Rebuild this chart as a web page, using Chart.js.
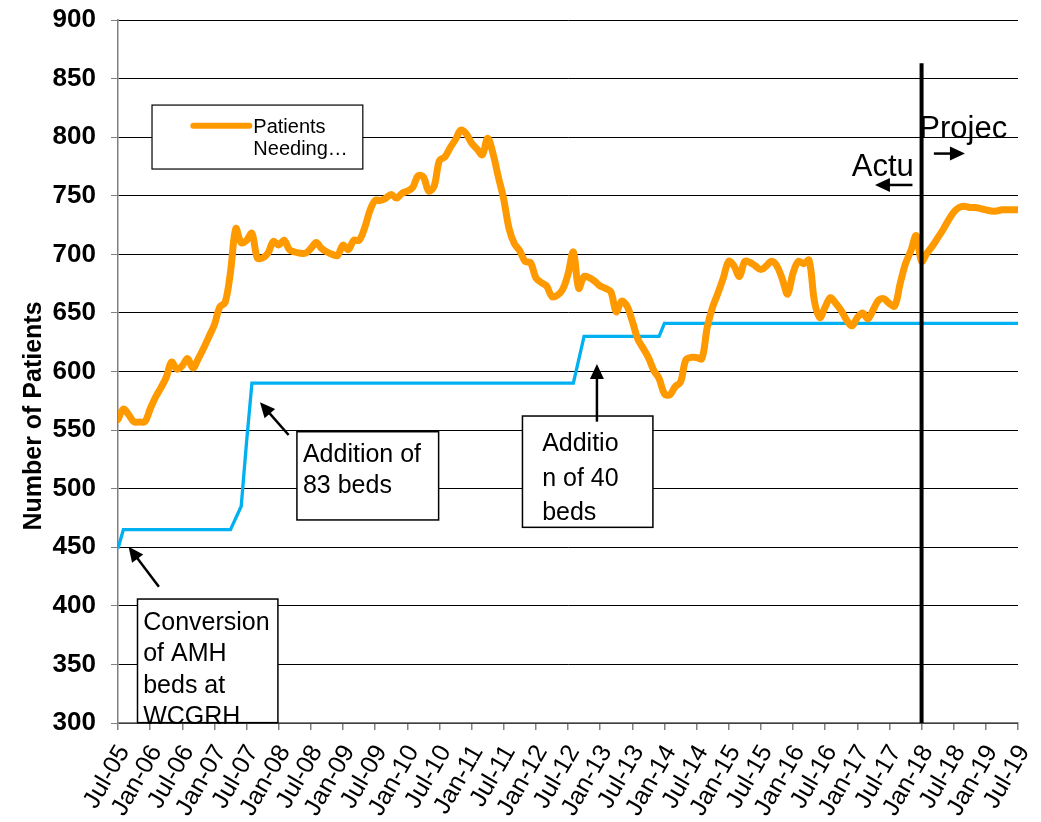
<!DOCTYPE html>
<html><head><meta charset="utf-8">
<script src="https://cdn.jsdelivr.net/npm/chart.js@4.4.1/dist/chart.umd.min.js"></script>
<style>html,body{margin:0;padding:0;background:#fff;} canvas{display:block;}</style>
</head><body>
<canvas id="c" width="1041" height="822"></canvas>
<script>
const FONT = "'Liberation Sans', Arial, sans-serif";

// x tick labels every 6 months (month index 0 = Jul-05, 168 = Jul-19)
const tickLabels = ['Jul-05','Jan-06','Jul-06','Jan-07','Jul-07','Jan-08','Jul-08','Jan-09','Jul-09','Jan-10',
  'Jul-10','Jan-11','Jul-11','Jan-12','Jul-12','Jan-13','Jul-13','Jan-14','Jul-14','Jan-15','Jul-15','Jan-16',
  'Jul-16','Jan-17','Jul-17','Jan-18','Jul-18','Jan-19','Jul-19'];

// Patients needing beds, monthly from Jul-05 (index 0) to Jul-19 (index 168)
const patientsNeeding = [
  559,568,563,557,557,557,568,578,586,595,608,602,
  605,611,603,611,620,630,640,655,659,685,722,710,
  712,718,697,697,701,711,708,712,704,702,701,701,
  705,710,705,702,700,699,708,704,712,712,722,737,
  746,746,748,751,748,752,754,757,767,766,754,758,
  780,783,791,798,806,803,795,790,785,799,786,766,
  747,722,709,703,694,693,680,676,673,664,665,670,
  683,702,671,681,680,677,673,671,668,651,660,656,
  643,628,620,612,601,594,581,580,587,591,610,612,
  612,611,638,655,667,680,694,690,681,694,693,690,
  687,690,694,690,679,666,684,694,692,695,660,646,
  655,663,658,652,644,639,646,650,645,653,661,662,
  658,656,675,692,703,716,694,701,707,714,721,729,
  736,740,741,740,740,739,738,737,737,738,738,738,
  738
];

// Bed capacity: month index where it changes, and value
const bedMonths = [0, 1, 21, 23, 24, 25, 85, 87, 101, 102, 168];
const bedValues = [449, 465, 465, 485, 540, 590, 590, 630, 630, 641, 641];

// Divider between actual and projection (Jan-18)
const dividerMonth = 150;
const dividerTop = 863;

const legendLabel = ['Patients', 'Needing…'];

// Annotation boxes (value coordinates: month index, patients)
const boxes = [
  { m1: 3.64, v1: 405.8, m2: 29.85, v2: 300.3, tx: 4.7,  lines: [['Conversion',379.8],['of AMH',352.7],['beds at',325.6],['WCGRH',298.8]] },
  { m1: 33.4, v1: 548.6, m2: 59.85, v2: 473.3, tx: 34.52, lines: [['Addition of',523],['83 beds',496]] },
  { m1: 75.5, v1: 562,   m2: 99.85, v2: 467,   tx: 79.17, lines: [['Additio',532.4],['n of 40',502.3],['beds',473.3]] }
];
const arrows = [
  { m1: 7.63, v1: 416.3, m2: 1.98, v2: 450.5 },
  { m1: 31.85, v1: 545.8, m2: 26.5, v2: 573.7 },
  { m1: 89.4, v1: 557.2, m2: 89.4, v2: 606.4 },
  { m1: 152.3, v1: 786, m2: 158.1, v2: 786 },
  { m1: 148.3, v1: 759.2, m2: 141.3, v2: 759.2 }
];
const sideTexts = [
  { text: 'Projec', m: 149.58, v: 798.9 },
  { text: 'Actu', m: 136.96, v: 766.8 }
];

function drawArrow(ctx, x1, y1, x2, y2) {
  const a = Math.atan2(y2 - y1, x2 - x1), L = 15, W = 7;
  ctx.save();
  ctx.strokeStyle = '#000'; ctx.fillStyle = '#000'; ctx.lineWidth = 2.5;
  ctx.beginPath(); ctx.moveTo(x1, y1);
  ctx.lineTo(x2 - L * 0.8 * Math.cos(a), y2 - L * 0.8 * Math.sin(a)); ctx.stroke();
  ctx.beginPath(); ctx.moveTo(x2, y2);
  ctx.lineTo(x2 - L * Math.cos(a) + W * Math.sin(a), y2 - L * Math.sin(a) - W * Math.cos(a));
  ctx.lineTo(x2 - L * Math.cos(a) - W * Math.sin(a), y2 - L * Math.sin(a) + W * Math.cos(a));
  ctx.closePath(); ctx.fill();
  ctx.restore();
}

const annotationPlugin = {
  id: 'annot',
  afterDatasetsDraw(chart) {
    const ctx = chart.ctx, xs = chart.scales.x, ys = chart.scales.y;
    const X = m => xs.getPixelForValue(m), Y = v => ys.getPixelForValue(v);
    ctx.save();
    // legend box
    ctx.fillStyle = '#fff'; ctx.strokeStyle = '#000'; ctx.lineWidth = 1.2;
    ctx.fillRect(X(6.35), Y(827.4), X(45.7) - X(6.35), Y(772.8) - Y(827.4));
    ctx.strokeRect(X(6.35), Y(827.4), X(45.7) - X(6.35), Y(772.8) - Y(827.4));
    ctx.strokeStyle = '#FF9900'; ctx.lineWidth = 6; ctx.lineCap = 'round';
    ctx.beginPath(); ctx.moveTo(X(14.06), Y(809.8)); ctx.lineTo(X(24.51), Y(809.8)); ctx.stroke();
    ctx.fillStyle = '#000'; ctx.font = '20px ' + FONT; ctx.textAlign = 'left'; ctx.textBaseline = 'alphabetic';
    ctx.fillText(legendLabel[0], X(25.26), Y(803.3));
    ctx.fillText(legendLabel[1], X(25.26), Y(784.8));
    // boxes
    for (const b of boxes) {
      ctx.fillStyle = '#fff'; ctx.strokeStyle = '#000'; ctx.lineWidth = 1.5; ctx.lineCap = 'butt';
      const x = X(b.m1), y = Y(b.v1), w = X(b.m2) - x, h = Y(b.v2) - y;
      ctx.fillRect(x, y, w, h); ctx.strokeRect(x, y, w, h);
      ctx.fillStyle = '#000'; ctx.font = '25px ' + FONT;
      for (const [t, v] of b.lines) ctx.fillText(t, X(b.tx), Y(v));
    }
    for (const a of arrows) drawArrow(ctx, X(a.m1), Y(a.v1), X(a.m2), Y(a.v2));
    ctx.fillStyle = '#000'; ctx.font = '31px ' + FONT;
    for (const s of sideTexts) ctx.fillText(s.text, X(s.m), Y(s.v));
    // y axis title
    ctx.save();
    ctx.translate(34, 416); ctx.rotate(-Math.PI / 2);
    ctx.font = 'bold 25px ' + FONT; ctx.textAlign = 'center'; ctx.textBaseline = 'middle';
    ctx.fillText('Number of Patients', 0, 0);
    ctx.restore();
    ctx.restore();
  }
};

new Chart(document.getElementById('c'), {
  type: 'line',
  data: {
    datasets: [
      { label: 'Divider', data: [{x: dividerMonth, y: dividerTop}, {x: dividerMonth, y: 300}],
        borderColor: '#000', borderWidth: 4, pointRadius: 0, order: 0, tension: 0 },
      { label: 'Patients Needing…', data: patientsNeeding.map((v, i) => ({x: i, y: v})),
        borderColor: '#FF9900', borderWidth: 7, pointRadius: 0, tension: 0.35,
        borderJoinStyle: 'round', borderCapStyle: 'round', order: 1 },
      { label: 'Beds', data: bedMonths.map((m, i) => ({x: m, y: bedValues[i]})),
        borderColor: '#00B0F0', borderWidth: 3.3, pointRadius: 0, tension: 0, order: 2 }
    ]
  },
  options: {
    responsive: false, animation: false, devicePixelRatio: 1,
    layout: { padding: { top: 20, right: 23, left: 0, bottom: 0 } },
    plugins: { legend: { display: false }, tooltip: { enabled: false } },
    scales: {
      x: {
        type: 'linear', min: 0, max: 168,
        afterFit: s => { s.height = 99; s.paddingLeft = 0; s.paddingRight = 0; },
        ticks: { stepSize: 6, autoSkip: false, maxRotation: 60, minRotation: 60, padding: 10, labelOffset: 6,
          color: '#000', font: { family: FONT, size: 25 },
          callback: v => tickLabels[v / 6] },
        grid: { drawOnChartArea: false, tickLength: 7, color: '#808080', lineWidth: 1.5 },
        border: { color: '#808080', width: 1.5 }
      },
      y: {
        min: 300, max: 900,
        afterFit: s => { s.width = 118; s.paddingTop = 0; s.paddingBottom = 0; },
        ticks: { stepSize: 50, padding: 15, color: '#000', font: { family: FONT, size: 26, weight: 'bold' } },
        grid: { color: '#000', lineWidth: 1, tickLength: 7, tickColor: '#808080' },
        border: { color: '#808080', width: 1.5 }
      }
    }
  },
  plugins: [annotationPlugin]
});
</script>
</body></html>
